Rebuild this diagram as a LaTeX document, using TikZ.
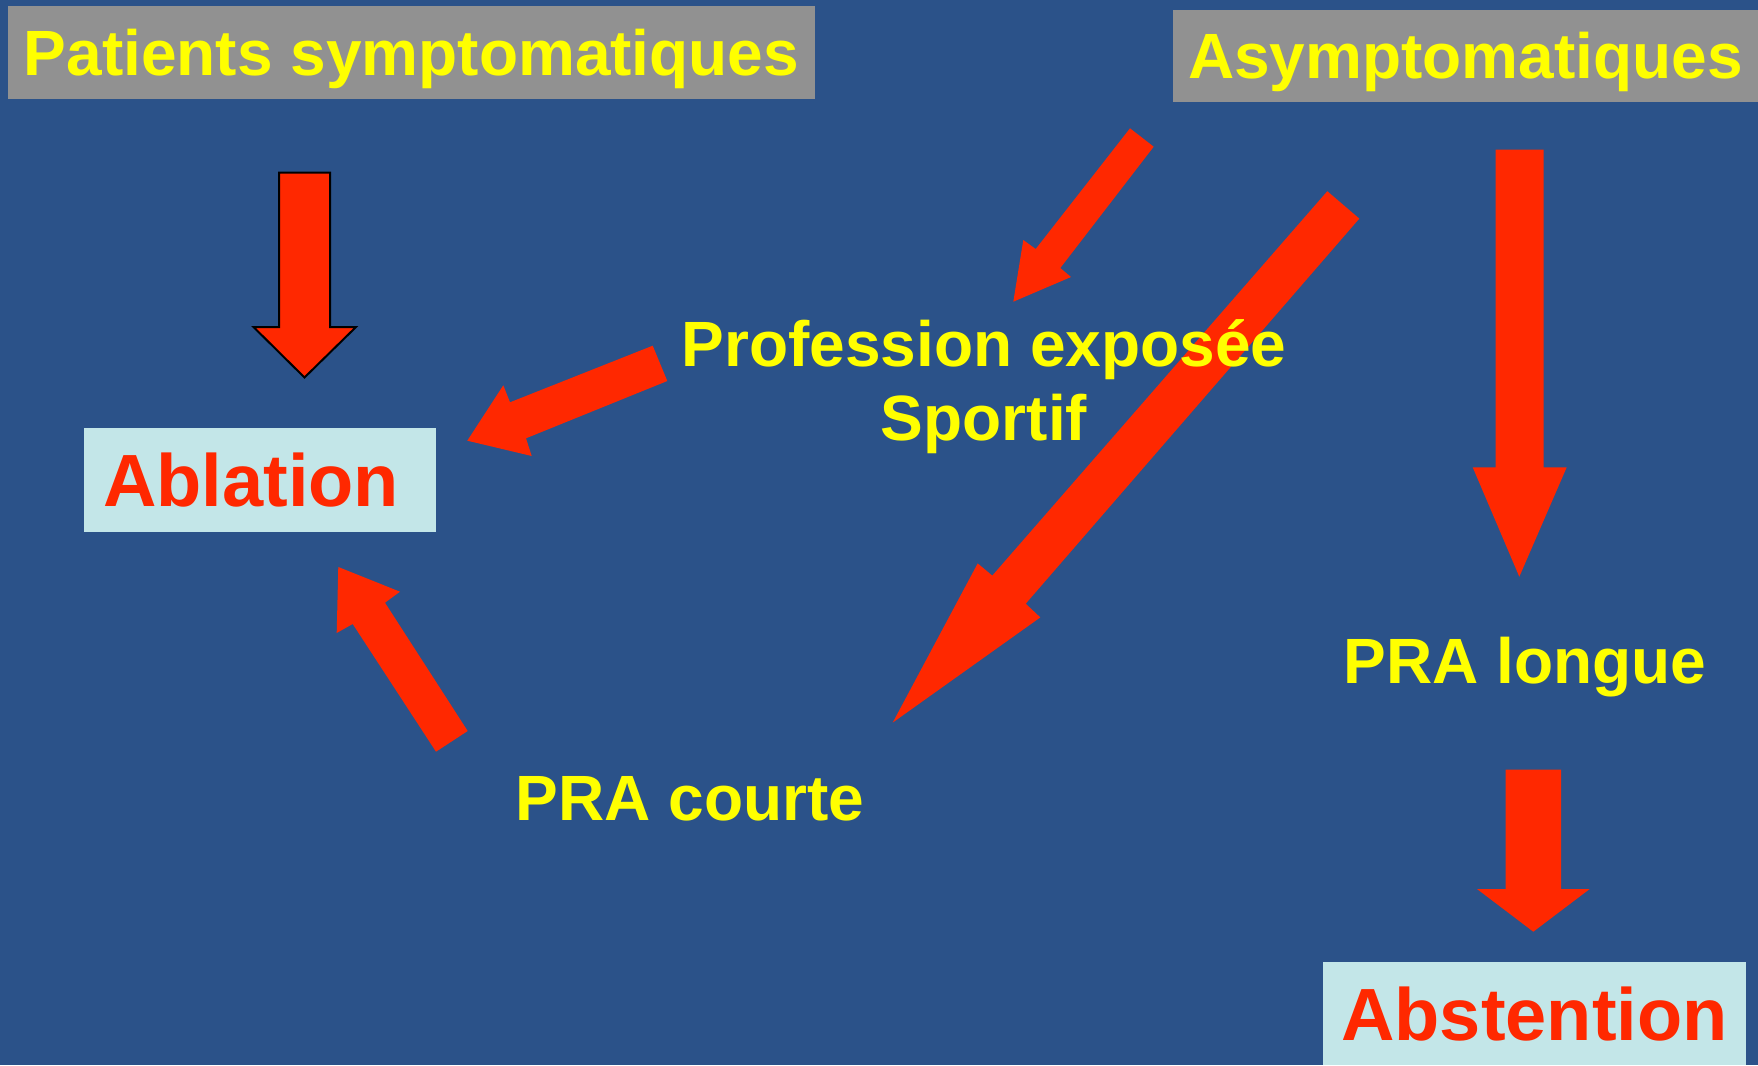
\documentclass[tikz,border=0pt]{standalone}
\usepackage{fontspec}
\setmainfont{Liberation Sans}
\definecolor{bgblue}{RGB}{43,82,137}
\definecolor{boxgray}{RGB}{145,145,145}
\definecolor{boxcyan}{RGB}{195,230,232}
\definecolor{arrred}{RGB}{255,40,0}
\definecolor{txtyel}{RGB}{255,255,0}
\begin{document}
\begin{tikzpicture}[x=1pt,y=-1pt,
  graybox/.style={fill=boxgray, text=txtyel, inner sep=0pt,
    font=\fontsize{64}{72}\selectfont\bfseries, text height=45.8pt, text depth=0pt},
  cyanbox/.style={fill=boxcyan, text=arrred, inner sep=0pt,
    font=\fontsize{74}{84}\selectfont\bfseries, text height=53pt, text depth=0pt},
  ylab/.style={text=txtyel, inner sep=0pt, anchor=base,
    font=\fontsize{64}{72}\selectfont\bfseries},
  blockarrow/.style={fill=arrred}
]
\fill[bgblue] (0,0) rectangle (1758,1065);
\useasboundingbox (0,0) rectangle (1758,1065);

% boxes
\node[graybox, minimum width=807pt, minimum height=93pt] (ps) at (411.5,52.5) {Patients symptomatiques};
\node[graybox, minimum width=585pt, minimum height=92pt] (as) at (1465.5,56) {Asymptomatiques};
\node[cyanbox, minimum width=352pt, minimum height=103.7pt, text width=314pt, align=left, inner xsep=19pt] (abl) at (260,479.8) {Ablation};
\node[cyanbox, minimum width=423pt, minimum height=103pt] (abs) at (1534.5,1013.5) {Abstention};

% arrow under Patients symptomatiques (outlined)
\filldraw[fill=arrred, draw=black, line width=2pt, line join=miter]
  (279,172.7) -- (330,172.7) -- (330,327) -- (356,327) -- (304.5,377.5)
  -- (253.5,327) -- (279,327) -- cycle;

% Profession -> Ablation
\fill[blockarrow] (652.7,345.7) -- (667.3,381) -- (526,438.3) -- (531.7,456)
  -- (467.3,440.7) -- (503.3,385.3) -- (510,402.3) -- cycle;

% Asymptomatiques -> Profession
\fill[blockarrow] (1130,128.3) -- (1153.7,146.7) -- (1060.3,268) -- (1071,277)
  -- (1013.3,301.7) -- (1023.3,240) -- (1035.7,249) -- cycle;

% Asymptomatiques -> PRA courte (big diagonal)
\fill[blockarrow] (1327.3,191.2) -- (1359.3,218.6) -- (1025.7,603.7) -- (1040.3,617.4)
  -- (892.7,722.6) -- (977.7,563.4) -- (992.3,575.6) -- cycle;

% PRA courte -> Ablation
\fill[blockarrow] (467.7,731) -- (436,751.7) -- (352.7,624) -- (336.7,633)
  -- (338.3,567) -- (400,591.7) -- (385,602.7) -- cycle;

% Asymptomatiques -> PRA longue
\fill[blockarrow] (1495.7,149.7) -- (1543.7,149.7) -- (1543.7,467.3) -- (1566.7,467.3)
  -- (1519.3,576.7) -- (1472.7,467.3) -- (1495.7,467.3) -- cycle;

% PRA longue -> Abstention
\fill[blockarrow] (1505.7,769.7) -- (1561,769.7) -- (1561,889) -- (1589.7,889)
  -- (1533.3,931.7) -- (1477,889) -- (1505.7,889) -- cycle;

% free labels (drawn on top of the arrows)
\node[ylab] (prof) at (984,366) {Profession exposée};
\node[ylab] (sport) at (984,440) {Sportif};
\node[ylab] (longue) at (1525,683) {PRA longue};
\node[ylab] (courte) at (690,820) {PRA courte};
\end{tikzpicture}
\end{document}
